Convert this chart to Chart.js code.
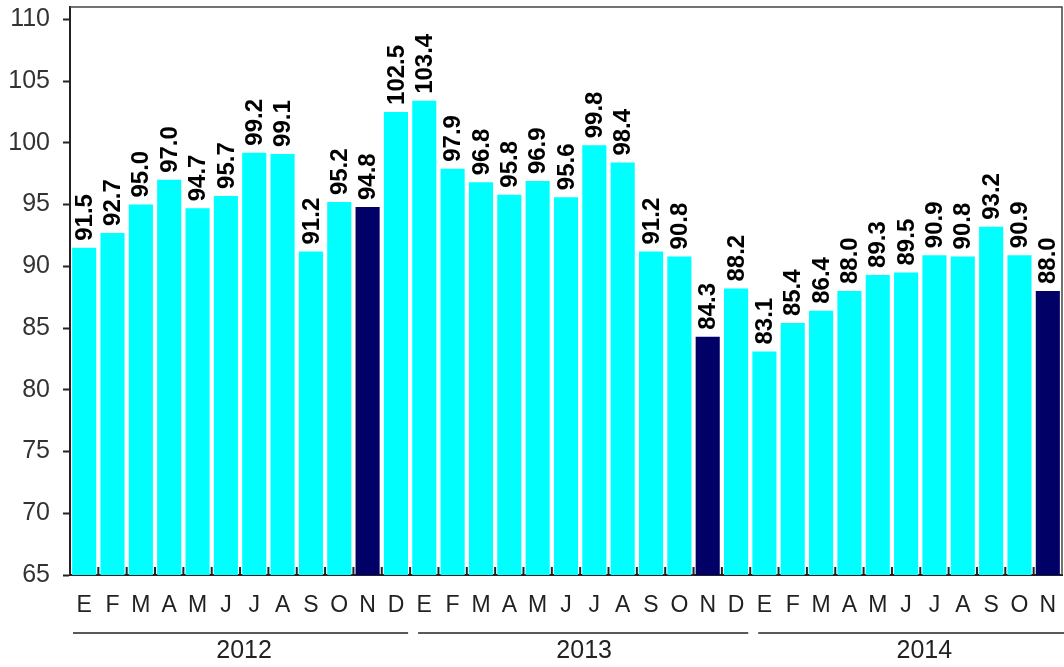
<!DOCTYPE html>
<html>
<head>
<meta charset="utf-8">
<script src="https://cdn.jsdelivr.net/npm/chart.js@4/dist/chart.umd.min.js"></script>
<style>
  html, body { margin: 0; padding: 0; background: #fff; }
  canvas { display: block; }
</style>
</head>
<body>
<canvas id="chart" width="1064" height="667"></canvas>
<script>
const months = [
  "E", "F", "M", "A", "M", "J", "J", "A", "S", "O", "N", "D",
  "E", "F", "M", "A", "M", "J", "J", "A", "S", "O", "N", "D",
  "E", "F", "M", "A", "M", "J", "J", "A", "S", "O", "N"
];
const values = [
  91.5, 92.7, 95.0, 97.0, 94.7, 95.7, 99.2, 99.1, 91.2, 95.2, 94.8, 102.5,
  103.4, 97.9, 96.8, 95.8, 96.9, 95.6, 99.8, 98.4, 91.2, 90.8, 84.3, 88.2,
  83.1, 85.4, 86.4, 88.0, 89.3, 89.5, 90.9, 90.8, 93.2, 90.9, 88.0
];
const years = ["2012", "2013", "2014"];
const yearStart = [0, 12, 24];
const yearEnd = [11, 23, 34];

const FONT = '"Liberation Sans", Arial, sans-serif';
const CYAN = "#00ffff";
const NAVY = "#000066";

const extras = {
  id: "extras",
  afterDraw(chart) {
    const ctx = chart.ctx;
    const area = chart.chartArea;
    const x = chart.scales.x;
    const step = x.getPixelForValue(1) - x.getPixelForValue(0);
    ctx.save();

    // frame top + right
    ctx.strokeStyle = "#444";
    ctx.lineWidth = 1.5;
    ctx.beginPath();
    ctx.moveTo(area.left, area.top);
    ctx.lineTo(area.right, area.top);
    ctx.lineTo(area.right, area.bottom);
    ctx.stroke();

    // small ticks between bars, pointing up
    ctx.strokeStyle = "#222";
    ctx.lineWidth = 2;
    ctx.beginPath();
    for (let i = 1; i < months.length; i++) {
      const px = x.getPixelForValue(i) - step / 2;
      ctx.moveTo(px, area.bottom);
      ctx.lineTo(px, area.bottom - 8);
    }
    ctx.stroke();

    // value labels
    const meta = chart.getDatasetMeta(0);
    ctx.fillStyle = "#000";
    ctx.font = "bold 24px " + FONT;
    ctx.textAlign = "left";
    ctx.textBaseline = "middle";
    meta.data.forEach((bar, i) => {
      ctx.save();
      ctx.translate(bar.x + 1, bar.y - 7);
      ctx.rotate(-Math.PI / 2);
      ctx.fillText(values[i].toFixed(1), 0, 0);
      ctx.restore();
    });

    // year groups
    ctx.strokeStyle = "#222";
    ctx.lineWidth = 1.5;
    ctx.fillStyle = "#222";
    ctx.font = "25px " + FONT;
    ctx.textAlign = "center";
    ctx.textBaseline = "middle";
    years.forEach((yr, k) => {
      const left = x.getPixelForValue(yearStart[k]) - step / 2;
      const right = x.getPixelForValue(yearEnd[k]) + step / 2;
      const x0 = k === 0 ? left + 3 : left + 8;
      const x1 = k === years.length - 1 ? chart.width : right - 2;
      ctx.beginPath();
      ctx.moveTo(x0, 633);
      ctx.lineTo(x1, 633);
      ctx.stroke();
      const mid = x.getPixelForValue(yearStart[k] + 5.5) + 4;
      ctx.fillText(yr, mid, 651);
    });

    ctx.restore();
  }
};

new Chart(document.getElementById("chart"), {
  type: "bar",
  data: {
    labels: months,
    datasets: [
      {
        data: values,
        backgroundColor: months.map((m) => (m === "N" ? NAVY : CYAN)),
        borderWidth: 0,
        barPercentage: 0.85,
        categoryPercentage: 1.0,
      },
    ],
  },
  options: {
    responsive: false,
    animation: false,
    devicePixelRatio: 1,
    layout: { padding: { top: 7, right: 2, left: 0, bottom: 0 } },
    plugins: {
      legend: { display: false },
      tooltip: { enabled: false },
    },
    scales: {
      x: {
        grid: { display: false, drawTicks: false },
        border: { display: true, color: "#222", width: 2 },
        ticks: {
          autoSkip: false,
          maxRotation: 0,
          padding: 17,
          color: "#222",
          font: { family: FONT, size: 23 },
        },
        afterFit(scale) {
          scale.height = 92;
          scale.paddingLeft = 0;
          scale.paddingRight = 0;
        },
      },
      y: {
        min: 65,
        max: 111,
        grid: {
          drawOnChartArea: false,
          drawTicks: true,
          tickLength: 7,
          tickColor: "#222",
          tickWidth: 2,
        },
        border: { display: true, color: "#222", width: 2 },
        ticks: {
          stepSize: 5,
          includeBounds: false,
          padding: 13,
          color: "#333",
          font: { family: FONT, size: 25 },
        },
        afterBuildTicks(scale) {
          scale.ticks = scale.ticks.filter((t) => t.value % 5 === 0);
        },
        afterFit(scale) {
          scale.width = 70;
          scale.paddingTop = 0;
          scale.paddingBottom = 0;
        },
      },
    },
  },
  plugins: [extras],
});
</script>
</body>
</html>
